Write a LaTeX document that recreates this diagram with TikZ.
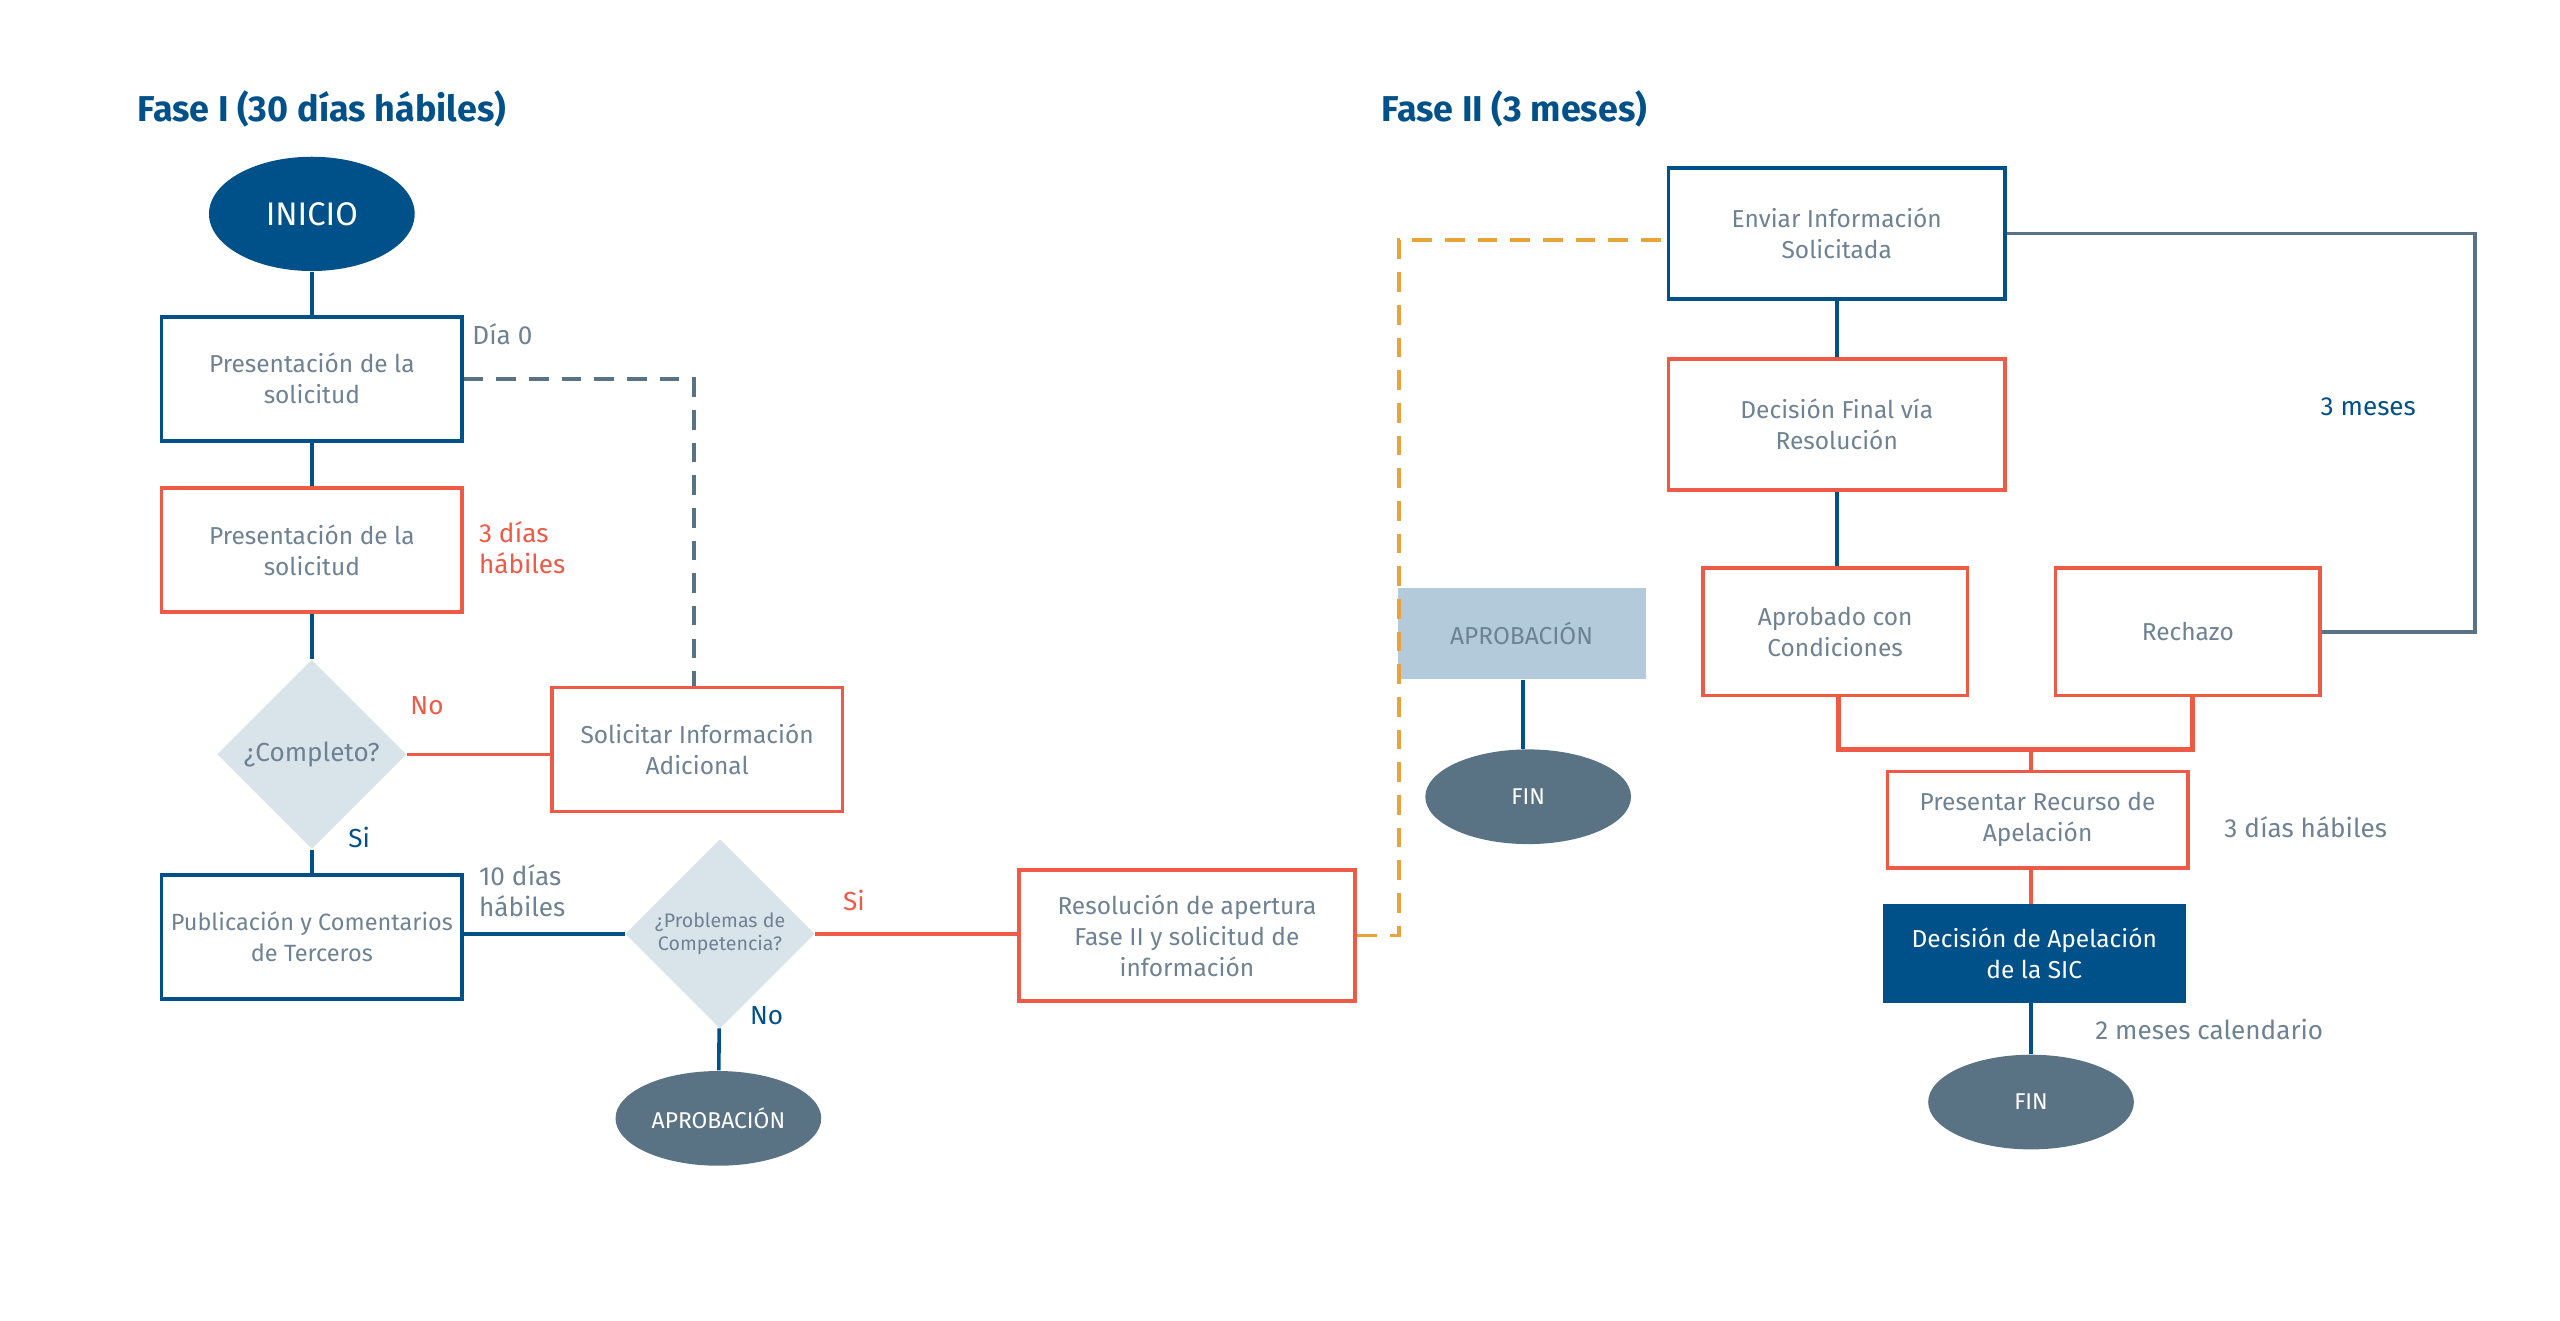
\documentclass[tikz,border=0pt]{standalone}
\usepackage{fontspec}
\setmainfont{Fira Sans}
\usetikzlibrary{shapes.geometric}
\definecolor{dblue}{HTML}{00508A}
\definecolor{ored}{HTML}{EE5A45}
\definecolor{gtext}{HTML}{6E8293}
\definecolor{lblue}{HTML}{D9E3EA}
\definecolor{abox}{HTML}{B3CADA}
\definecolor{egrey}{HTML}{5A7384}
\definecolor{dorange}{HTML}{E8A33A}
\begin{document}
\begin{tikzpicture}[x=0.5pt,y=-0.5pt,
 box/.style={draw,line width=1.1pt,minimum width=#1*0.5pt,inner sep=0pt,align=center,text=gtext,font=\fontsize{7.5}{9.5}\selectfont},
 bb/.style={box=#1,draw=dblue},
 rb/.style={box=#1,draw=ored},
 ell/.style={ellipse,fill=egrey,text=white,minimum width=63pt,minimum height=29pt,inner sep=0pt,font=\fontsize{7}{8}\selectfont},
 dia/.style={diamond,fill=lblue,text=gtext,minimum width=58pt,minimum height=58pt,inner sep=0pt,align=center},
 bl/.style={draw=dblue,line width=1.1pt},
 rl/.style={draw=ored,line width=1.1pt},
 lab/.style={font=\fontsize{8}{9.5}\selectfont,align=left,anchor=north west,inner sep=0pt},
 ttl/.style={font=\bfseries\fontsize{11}{13}\selectfont,text=dblue,anchor=west,inner sep=0pt}]
\useasboundingbox (0,0) rectangle (1568,809);
\node[ttl] (t1) at (84,67) {Fase I (30 días hábiles)};
\node[ttl] (t2) at (846,67) {Fase II (3 meses)};
\node[ellipse,fill=dblue,text=white,minimum width=63pt,minimum height=35pt,inner sep=0pt,font=\fontsize{10}{12}\selectfont] (ini) at (191,131) {INICIO};
\node[bb=184,minimum height=38pt] (p1) at (191,232) {Presentación de la\\solicitud};
\node[lab,text=gtext] (d0) at (289,198) {Día 0};
\node[rb=184,minimum height=38pt] (p2) at (191,337) {Presentación de la\\solicitud};
\node[lab,text=ored] (d3) at (293,319) {3 días\\hábiles};
\node[dia,font=\fontsize{8}{9}\selectfont] (c1) at (191,462) {¿Completo?};
\node[lab,text=ored] (no1) at (251,426) {No};
\node[lab,text=dblue] (si1) at (213,506) {Si};
\node[rb=178,minimum height=38pt] (sol) at (427,459) {Solicitar Información\\Adicional};
\node[bb=184,minimum height=38pt,font=\fontsize{7.2}{9.5}\selectfont] (p3) at (191,574) {Publicación y Comentarios\\de Terceros};
\node[lab,text=gtext] (d10) at (293,529) {10 días\\hábiles};
\node[dia,font=\fontsize{6}{7}\selectfont] (c2) at (441,572) {¿Problemas de\\Competencia?};
\node[lab,text=ored] (si2) at (516,545) {Si};
\node[lab,text=dblue] (no2) at (459,616) {No};
\node[ell] (ap1) at (440,685) {APROBACIÓN};
\node[rb=206,minimum height=40pt] (res) at (727,573) {Resolución de apertura\\Fase II y solicitud de\\información};
\node[bb=206,minimum height=40pt] (env) at (1125,143) {Enviar Información\\Solicitada};
\node[rb=206,minimum height=40pt] (dfin) at (1125,260) {Decisión Final vía\\Resolución};
\node[rb=162,minimum height=39pt] (apc) at (1124,387) {Aprobado con\\Condiciones};
\node[rb=162,minimum height=39pt] (rec) at (1340,387) {Rechazo};
\node[lab,text=dblue] (m3) at (1421,243) {3 meses};
\node[rb=184,minimum height=29.5pt] (pre) at (1248,502) {Presentar Recurso de\\Apelación};
\node[lab,text=gtext] (d3b) at (1362,500) {3 días hábiles};
\node[box=183,fill=dblue,draw=dblue,text=white,minimum height=29pt] (dap) at (1246,584) {Decisión de Apelación\\de la SIC};
\node[lab,text=gtext] (m2) at (1283,624) {2 meses calendario};
\node[ell] (fin2) at (1244,675) {FIN};
\node[fill=abox,text=gtext,minimum width=76pt,minimum height=28pt,inner sep=0pt,font=\fontsize{7.5}{9}\selectfont] (ap2) at (932,388) {APROBACIÓN};
\node[ell] (fin1) at (936,488) {FIN};
\coordinate (k1) at (425,232);
\coordinate (o1) at (857,573);
\coordinate (o2) at (857,147);
\coordinate (g1) at (1516,143);
\coordinate (g2) at (1516,387);
\coordinate (r1) at (1126,459);
\coordinate (r2) at (1343,459);
\coordinate (r3) at (1244,459);
\coordinate (v1) at (933,0);
\draw[bl] (ini) -- (p1);
\draw[bl] (p1) -- (p2);
\draw[bl] (p2) -- (c1);
\draw[bl] (c1) -- (p3);
\draw[rl] (c1.east) -- (c1.east -| sol.west);
\draw[draw=egrey,line width=1.1pt,dash pattern=on 6pt off 4pt] (p1.east) -- (k1) -- (sol.north -| k1);
\draw[bl] (c2.west -| p3.east) -- (c2.west);
\draw[rl] (c2.east) -- (c2.east -| res.west);
\draw[bl] (c2) -- (ap1);
\draw[draw=dorange,line width=1.1pt,dash pattern=on 6pt off 4pt] (res.east) -- (o1) -- (o2) -- (env.west |- o2);
\draw[bl] (env) -- (dfin);
\draw[bl] (dfin) -- (dfin.south |- apc.north);
\draw[draw=egrey,line width=1.1pt] (env.east) -- (g1) -- (g2) -- (rec.east);
\draw[rl,line width=1.5pt] (apc.south -| r1) -- (r1) -- (r2) -- (rec.south -| r2);
\draw[rl] (r3) -- (pre.north -| r3);
\draw[rl] (pre.south -| r3) -- (dap.north -| r3);
\draw[bl] (dap.south -| r3) -- (fin2);
\draw[bl] (ap2.south -| v1) -- (fin1.north -| v1);
\end{tikzpicture}
\end{document}
